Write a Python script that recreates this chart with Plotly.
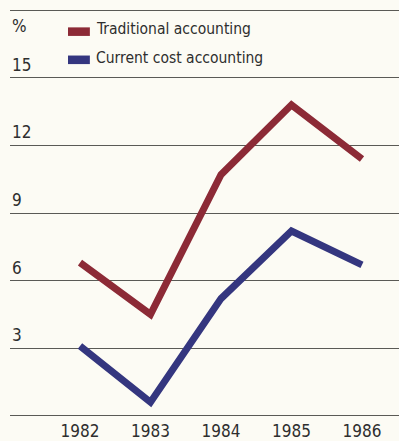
import plotly.graph_objects as go

years = [1982, 1983, 1984, 1985, 1986]
traditional = [6.8, 4.5, 10.7, 13.8, 11.4]
current_cost = [3.1, 0.6, 5.2, 8.2, 6.7]
y_ticks = [0, 3, 6, 9, 12, 15, 18]
y_labels = ["", "3", "6", "9", "12", "15", ""]

RED = "#8c2a36"
BLUE = "#34367f"
BG = "#fcfbf4"
GRID = "#5a5a55"
TEXT = "#2e2e2e"
FONT = "DejaVu Sans Condensed, Liberation Sans Narrow, sans-serif"

fig = go.Figure()
fig.add_trace(go.Scatter(x=years, y=traditional, mode="lines", name="Traditional accounting",
                         line=dict(color=RED, width=7)))
fig.add_trace(go.Scatter(x=years, y=current_cost, mode="lines", name="Current cost accounting",
                         line=dict(color=BLUE, width=7)))

annotations = []
for v, lab in zip(y_ticks, y_labels):
    if lab:
        annotations.append(dict(x=0, xref="paper", y=v, yref="y", text=lab, showarrow=False,
                                xanchor="left", yanchor="bottom", xshift=0, yshift=1,
                                font=dict(family=FONT, size=17, color=TEXT)))
annotations.append(dict(x=0, xref="paper", y=17.3, yref="y", text="%", showarrow=False,
                        xanchor="left", yanchor="middle", xshift=0,
                        font=dict(family=FONT, size=17, color=TEXT)))

shapes = []
for name, col, yv in [("Traditional accounting", RED, 17.05),
                      ("Current cost accounting", BLUE, 15.8)]:
    shapes.append(dict(type="rect", xref="x", yref="y", x0=1981.83, x1=1982.14,
                       y0=yv - 0.19, y1=yv + 0.19, fillcolor=col, line=dict(width=0)))
    annotations.append(dict(x=1982.2, xref="x", y=yv + 0.1, yref="y", text=name, showarrow=False,
                            xanchor="left", yanchor="middle",
                            font=dict(family=FONT, size=15.5, color=TEXT)))

fig.update_layout(
    width=399, height=441,
    margin=dict(l=10, r=0, t=8, b=23),
    paper_bgcolor=BG, plot_bgcolor=BG,
    showlegend=False,
    xaxis=dict(range=[1981.007, 1986.525], tickvals=years, ticktext=[str(y) for y in years],
               showgrid=False, zeroline=False, showline=False, ticks="",
               ticklabelstandoff=1, automargin=False,
               tickfont=dict(family=FONT, size=17, color=TEXT)),
    yaxis=dict(range=[-0.1, 18.1], tickvals=y_ticks, showticklabels=False, showgrid=True,
               gridcolor=GRID, gridwidth=1.2, zeroline=False, showline=False, ticks="",
               automargin=False),
    annotations=annotations,
    shapes=shapes,
)

fig.write_html("out.html")
